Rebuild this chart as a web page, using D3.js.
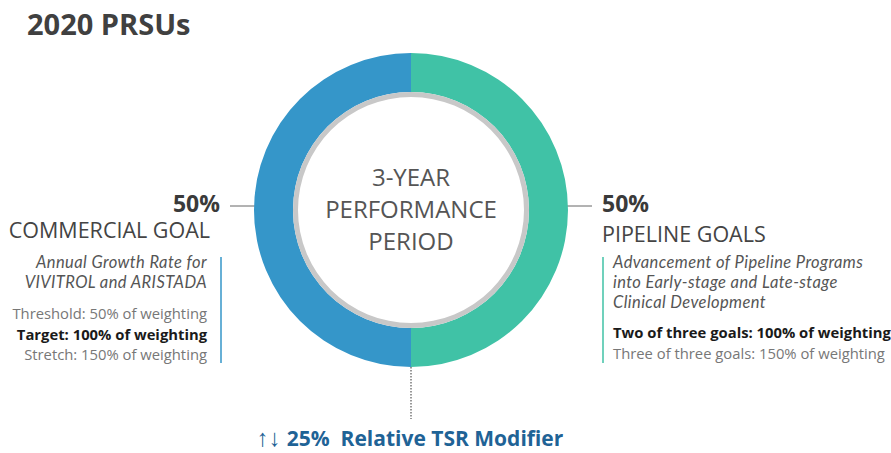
<!DOCTYPE html>
<html>
<head>
<meta charset="utf-8">
<script src="https://cdnjs.cloudflare.com/ajax/libs/d3/7.8.5/d3.min.js"></script>
<style>
body{margin:0;background:#fff;}
svg{font-family:"Open Sans",sans-serif;}
</style>
</head>
<body>
<svg id="svg" width="891" height="453"></svg>
<script>
var categories=["COMMERCIAL GOAL","PIPELINE GOALS"];
var weights=[50,50];
var colors=["#3596c9","#40c2a6"];
var goalDesc=[
    ["Annual Growth Rate for","VIVITROL and ARISTADA"],
    ["Advancement of Pipeline Programs","into Early-stage and Late-stage","Clinical Development"]
];
var goalLevels=[
    [{t:"Threshold: 50% of weighting",b:false},{t:"Target: 100% of weighting",b:true},{t:"Stretch: 150% of weighting",b:false}],
    [{t:"Two of three goals: 100% of weighting",b:true},{t:"Three of three goals: 150% of weighting",b:false}]
];
var centerLines=["3-YEAR","PERFORMANCE","PERIOD"];
var title="2020 PRSUs";
var modArrows="\u2191\u2193";
var modifier="25%\u00a0\u00a0Relative TSR Modifier";

var svg=d3.select('#svg');
var cx=411, cy=210, outerR=157, innerR=118, ringR=113;

svg.append("text")
    .attr("x",27).attr("y",35)
    .attr("font-size",29).attr("font-weight","bold")
    .attr("fill","#404040")
    .text(title);

var pie=d3.pie().sort(null).startAngle(Math.PI).endAngle(3*Math.PI);
var arcs=pie(weights);
var arc=d3.arc().innerRadius(innerR).outerRadius(outerR);

var donut=svg.append("g").attr("transform","translate("+cx+","+cy+")");

// connectors behind donut
var sides=[-1,1];
donut.selectAll("line.conn").data(sides).enter()
    .append("line")
    .attr("x1",function(s){return s*(outerR-8);})
    .attr("x2",function(s){return s*(outerR+24);})
    .attr("y1",-4).attr("y2",-4)
    .attr("stroke","#666").attr("stroke-width",1);

donut.append("line")
    .attr("x1",0).attr("x2",0)
    .attr("y1",outerR).attr("y2",outerR+52)
    .attr("stroke","#777").attr("stroke-width",1.5)
    .attr("stroke-dasharray","1.5,1.5");

donut.selectAll("path").data(arcs).enter()
    .append("path")
    .attr("d",arc)
    .attr("fill",function(d,i){return colors[i];});

donut.append("path")
    .attr("d",d3.arc().innerRadius(ringR).outerRadius(innerR).startAngle(0).endAngle(2*Math.PI)())
    .attr("fill","#c8c8c8");

donut.selectAll("text.center").data(centerLines).enter()
    .append("text")
    .attr("text-anchor","middle")
    .attr("y",function(d,i){return -24+i*32;})
    .attr("font-size",24)
    .attr("fill","#555")
    .text(function(d){return d;});

// side labels
var side=[
    {anchor:"end", x:220, tx:210, dx:207, bar:221, pctY:212, catY:238},
    {anchor:"start", x:602, tx:602, dx:613, bar:603, pctY:212, catY:242}
];

side.forEach(function(s,i){
    svg.append("text")
        .attr("x",s.x).attr("y",s.pctY)
        .attr("text-anchor",s.anchor)
        .attr("font-size",23).attr("font-weight","bold")
        .attr("fill","#3a3a3a")
        .text(weights[i]+"%");
    svg.append("text")
        .attr("x",s.tx).attr("y",s.catY)
        .attr("text-anchor",s.anchor)
        .attr("font-size",21.5)
        .attr("fill","#444")
        .text(categories[i]);
    svg.append("line")
        .attr("x1",s.bar).attr("x2",s.bar)
        .attr("y1",257).attr("y2",363)
        .attr("stroke",colors[i]).attr("stroke-width",1.5);
    goalDesc[i].forEach(function(t,j){
        svg.append("text")
            .attr("x",s.dx).attr("y",268+j*20)
            .attr("text-anchor",s.anchor)
            .attr("font-family","Lato, sans-serif")
            .attr("font-size",16.5).attr("font-style","italic")
            .attr("letter-spacing",0.4)
            .attr("fill","#555")
            .text(t);
    });
    var startY=i==0?319:338;
    goalLevels[i].forEach(function(l,j){
        svg.append("text")
            .attr("x",s.dx).attr("y",startY+j*20.5)
            .attr("text-anchor",s.anchor)
            .attr("font-size",14.8)
            .attr("font-weight",l.b?"bold":"normal")
            .attr("fill",l.b?"#1a1a1a":"#777")
            .text(l.t);
    });
});

var mod=svg.append("text")
    .attr("x",410).attr("y",446)
    .attr("text-anchor","middle")
    .attr("font-size",21).attr("font-weight","bold")
    .attr("fill","#1f6396");
mod.append("tspan").attr("font-size",24).attr("font-weight","normal").text(modArrows);
mod.append("tspan").attr("dx",6).text(modifier);
</script>
</body>
</html>
